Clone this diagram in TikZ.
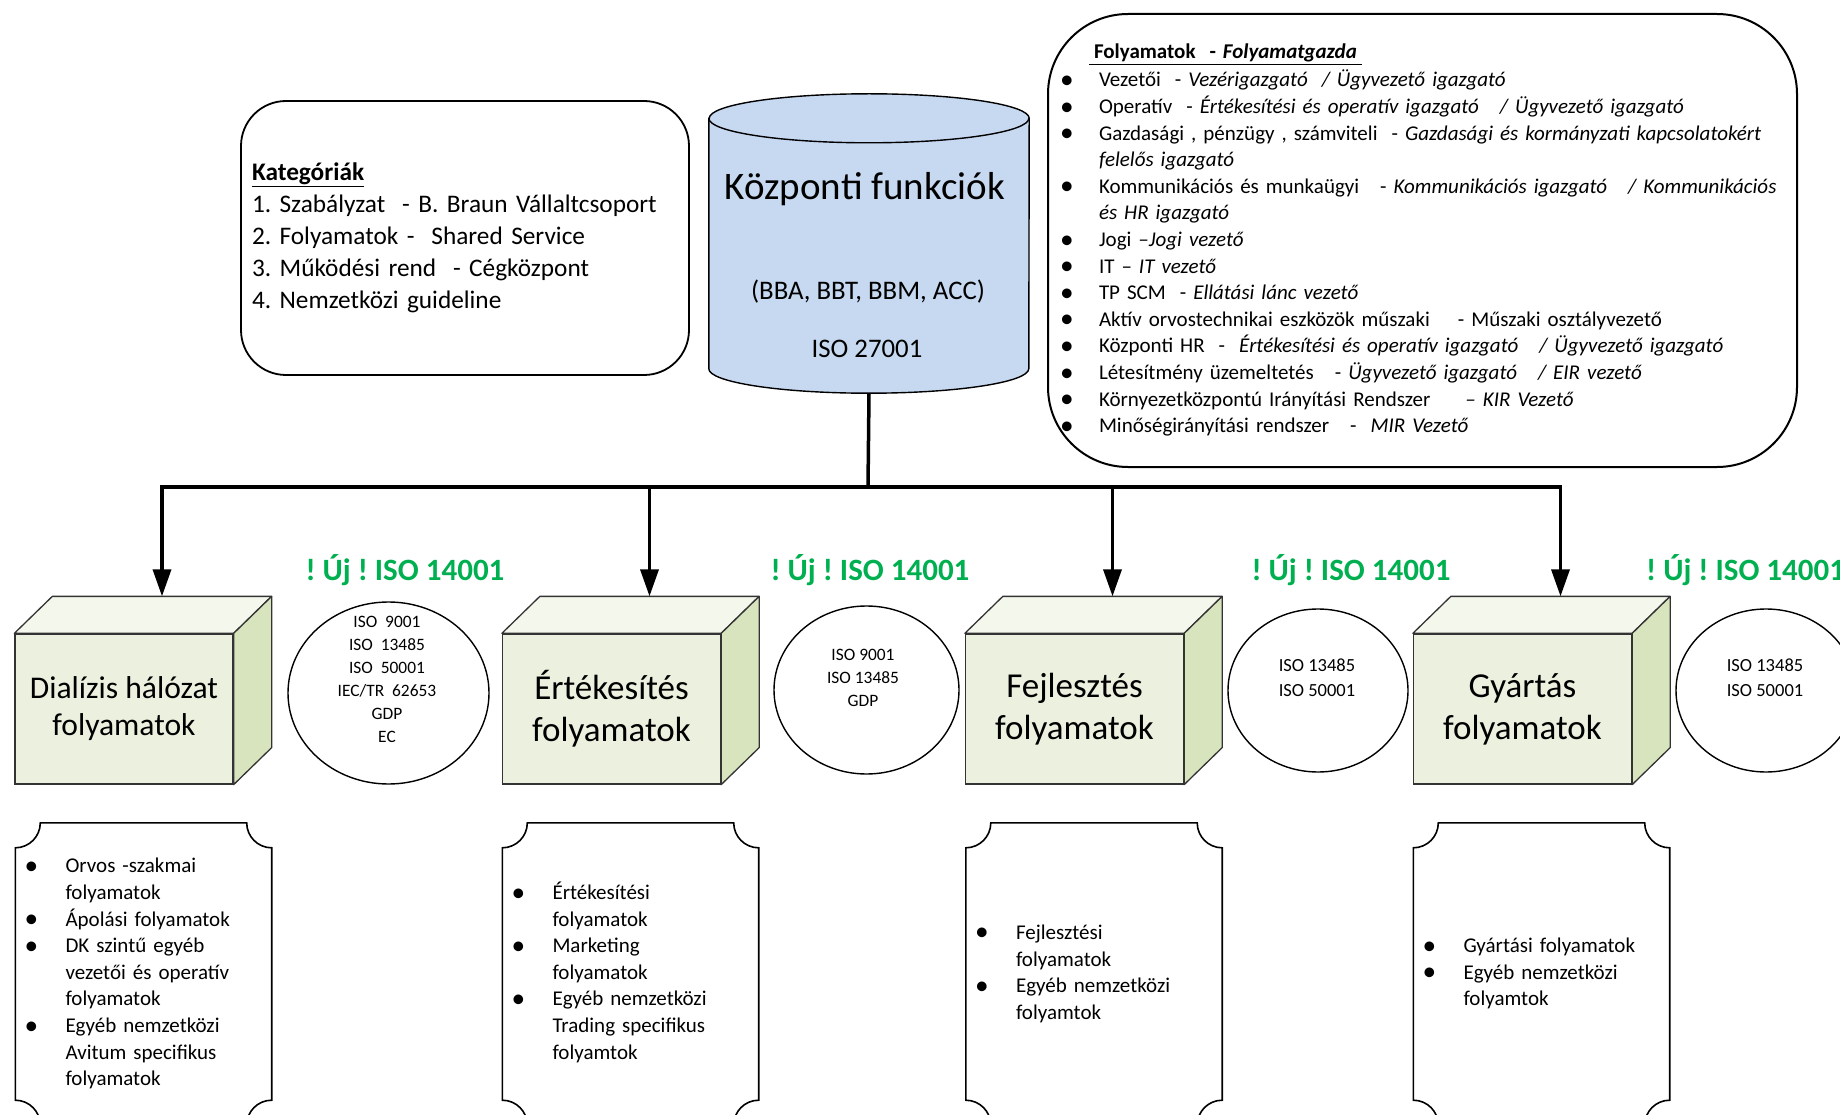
\documentclass[tikz,border=0pt]{standalone}
\usepackage{fontspec}
\setmainfont{Carlito}
\usetikzlibrary{arrows.meta,shapes.geometric}

\definecolor{ujzold}{HTML}{00B050}
\definecolor{kockaeleje}{HTML}{EBF1DE}
\definecolor{kockateteje}{HTML}{F4F7EC}
\definecolor{kockaoldala}{HTML}{D7E4BD}
\definecolor{hengerkek}{HTML}{C6D9F1}

\newcommand{\nagybetu}{\fontsize{31.6}{37}\selectfont}
\newcommand{\kockabetu}{\fontsize{35}{42}\selectfont}
\newcommand{\katbetu}{\fontsize{25.3}{32}\selectfont}
\newcommand{\listabetu}{\fontsize{21}{26.6}\selectfont}
\newcommand{\kisbetu}{\fontsize{17.4}{23}\selectfont}
\newcommand{\isobetu}{\fontsize{18.5}{25}\selectfont}
\newcommand{\pont}{\hspace*{-5pt}\raisebox{-1.5pt}{\scalebox{1.3}{\textbullet}}}

\begin{document}
\frenchspacing
\begin{tikzpicture}[x=1pt,y=1pt,
  keret/.style={draw,line width=1.8pt,rounded corners=45,minimum width=448,minimum height=274,
                inner xsep=11,inner ysep=0,text width=426,align=left,font=\katbetu},
  nagykeret/.style={draw,line width=2pt,rounded corners=80,minimum width=749,minimum height=453,
                inner xsep=17,inner ysep=0,text width=715,align=left,font=\listabetu},
  hengertest/.style={minimum width=320,minimum height=250,inner sep=0},
  henger/.style={draw,line width=1.4pt,fill=hengerkek},
  hengercim/.style={anchor=base,inner sep=0,font=\fontsize{39}{46}\selectfont},
  hengeralcim/.style={anchor=base,inner sep=0,font=\fontsize{26.8}{32}\selectfont},
  kocka/.style={draw=black!80,line width=1.3pt,fill=kockaeleje,minimum width=218,minimum height=150,
                inner sep=0,align=center,font=\kockabetu},
  teteje/.style={draw=black!80,line width=1.3pt,fill=kockateteje,line join=round},
  oldala/.style={draw=black!80,line width=1.3pt,fill=kockaoldala,line join=round},
  tanusitvany/.style={draw,ellipse,line width=1.4pt,inner sep=0},
  isoszoveg/.style={inner sep=0,align=center},
  ujcimke/.style={anchor=base,inner sep=0,text=ujzold,font=\bfseries\fontsize{31}{36}\selectfont},
  vonal/.style={line width=3.5pt},
  nyil/.style={line width=3.5pt,-{Triangle[width=18pt,length=27pt]}},
  plakett/.style={minimum width=256,minimum height=302,inner xsep=14,inner ysep=0,
                text width=228,align=left,font=\listabetu},
  plakettvonal/.style={line width=1.6pt}]

\useasboundingbox (0,0) rectangle (1840,-1115);
\clip (0,0) rectangle (1840,-1115);

\node[keret] (kat) at (465,-238) {\underline{\textbf{Kategóriák}}\\
  1. Szabályzat~ - B. Braun Vállaltcsoport\\
  2. Folyamatok -~ Shared Service\\
  3. Működési rend~ - Cégközpont\\
  4. Nemzetközi guideline};

\node[nagykeret] (folyam) at (1422.5,-240.5) {%
  \begin{tabular}{@{}p{34pt}@{}l@{}}
  \multicolumn{2}{@{}l@{}}{\hspace*{24pt}\underline{\hspace*{5pt}\textbf{Folyamatok~ - \textit{Folyamatgazda}}\hspace*{5pt}}}\\[1.4pt]
  \pont & Vezetői~ - \textit{Vezérigazgató~ / Ügyvezető igazgató}\\
  \pont & Operatív~ - \textit{Értékesítési és operatív igazgató~~ / Ügyvezető igazgató}\\
  \pont & Gazdasági , pénzügy , számviteli~ - \textit{Gazdasági és kormányzati kapcsolatokért}\\
        & \textit{felelős igazgató}\\
  \pont & Kommunikációs és munkaügyi~~ - \textit{Kommunikációs igazgató~~ / Kommunikációs}\\
        & \textit{és HR igazgató}\\
  \pont & Jogi \textit{–Jogi vezető}\\
  \pont & IT – \textit{IT vezető}\\
  \pont & TP SCM~ - \textit{Ellátási lánc vezető}\\
  \pont & Aktív orvostechnikai eszközök műszaki~~~ - Műszaki osztályvezető\\
  \pont & Központi HR~ - ~\textit{Értékesítési és operatív igazgató~~ / Ügyvezető igazgató}\\
  \pont & Létesítmény üzemeltetés~~ - \textit{Ügyvezető igazgató~~ / EIR vezető}\\
  \pont & Környezetközpontú Irányítási Rendszer~~~~ \textit{– KIR Vezető}\\
  \pont & Minőségirányítási rendszer~~ - ~\textit{MIR Vezető}
  \end{tabular}};

\node[hengertest] (kozp) at (869,-243.5) {};
\filldraw[henger] (kozp.north west) -- (kozp.south west)
  arc[start angle=180,end angle=360,x radius=160,y radius=24.5] -- (kozp.north east)
  arc[start angle=0,end angle=180,x radius=160,y radius=24.5] -- cycle;
\draw[henger,fill=none] (kozp.north west) arc[start angle=180,end angle=360,x radius=160,y radius=24.5];
\coordinate (hengeralja) at ([yshift=-24.5]kozp.south);
\node[hengercim]   (kozpcim) at (865,-200) {Központi funkciók};
\node[hengeralcim] (kozpceg) at (868,-300) {(BBA, BBT, BBM, ACC)};
\node[hengeralcim] (kozpiso) at (867,-358) {ISO 27001};

\node[kocka,font=\nagybetu] (d1) at (124,-709) {Dialízis hálózat\\folyamatok};
\node[kocka] (d2) at (611.5,-709)  {Értékesítés\\folyamatok};
\node[kocka] (d3) at (1074.5,-709) {Fejlesztés\\folyamatok};
\node[kocka] (d4) at (1522.5,-709) {Gyártás\\folyamatok};

\foreach \n in {1,...,4}{
  \filldraw[teteje] (d\n.north west) -- ++(38,37) -- ([shift={(38,37)}]d\n.north east) -- (d\n.north east) -- cycle;
  \filldraw[oldala] (d\n.north east) -- ++(38,37) -- ([shift={(38,37)}]d\n.south east) -- (d\n.south east) -- cycle;
  \coordinate (t\n) at ([shift={(38,37)}]d\n.north);
}

\node[tanusitvany,minimum width=201,minimum height=182] (e1) at (388.5,-693) {};
\node[tanusitvany,minimum width=185,minimum height=168] (e2) at (866.5,-690) {};
\node[tanusitvany,minimum width=180,minimum height=163] (e3) at (1318,-690.5) {};
\node[tanusitvany,minimum width=180,minimum height=163] (e4) at (1766,-690.5) {};

\node[isoszoveg,font=\kisbetu] (e1t) at (387,-679.5) {ISO~~9001\\ISO~~13485\\ISO~~50001\\IEC/TR~~62653\\GDP\\EC};
\node[isoszoveg,font=\kisbetu] (e2t) at (863,-678)   {ISO 9001\\ISO 13485\\GDP};
\node[isoszoveg,font=\isobetu] (e3t) at (1317,-678)  {ISO 13485\\ISO 50001};
\node[isoszoveg,font=\isobetu] (e4t) at (1765,-678)  {ISO 13485\\ISO 50001};

\node[ujcimke]                 (uj1) at (405,-580)  {! Új ! ISO 14001};
\node[ujcimke]                 (uj2) at (870,-580)  {! Új ! ISO 14001};
\node[ujcimke]                 (uj3) at (1351,-580) {! Új ! ISO 14001};
\node[ujcimke,anchor=base west] (uj4) at (1646,-580) {! Új ! ISO 14001};

\coordinate (bus) at (868,-487);
\draw[vonal] (hengeralja) -- (bus);
\foreach \n in {1,...,4}
  \draw[nyil] (bus) -| (t\n);

\node[plakett] (p1) at (143.5,-974) {%
  \begin{tabular}{@{}p{36pt}@{}l@{}}
  \pont & Orvos -szakmai\\
        & folyamatok\\
  \pont & Ápolási folyamatok\\
  \pont & DK szintű egyéb\\
        & vezetői és operatív\\
        & folyamatok\\
  \pont & Egyéb nemzetközi\\
        & Avitum specifikus\\
        & folyamatok
  \end{tabular}};
\node[plakett] (p2) at (630.5,-974) {%
  \begin{tabular}{@{}p{36pt}@{}l@{}}
  \pont & Értékesítési\\
        & folyamatok\\
  \pont & Marketing\\
        & folyamatok\\
  \pont & Egyéb nemzetközi\\
        & Trading specifikus\\
        & folyamtok
  \end{tabular}};
\node[plakett] (p3) at (1094,-974) {%
  \begin{tabular}{@{}p{36pt}@{}l@{}}
  \pont & Fejlesztési\\
        & folyamatok\\
  \pont & Egyéb nemzetközi\\
        & folyamtok
  \end{tabular}};
\node[plakett] (p4) at (1541.5,-974) {%
  \begin{tabular}{@{}p{36pt}@{}l@{}}
  \pont & Gyártási folyamatok\\
  \pont & Egyéb nemzetközi\\
        & folyamtok
  \end{tabular}};

\foreach \n in {p1,p2,p3,p4}
  \draw[plakettvonal] ([yshift=-25]\n.north west) arc[start angle=-90,end angle=0,radius=25]
    -- ([xshift=-25]\n.north east) arc[start angle=180,end angle=270,radius=25]
    -- ([yshift=25]\n.south east) arc[start angle=90,end angle=180,radius=25]
    -- ([xshift=25]\n.south west) arc[start angle=0,end angle=90,radius=25] -- cycle;

\end{tikzpicture}
\end{document}
